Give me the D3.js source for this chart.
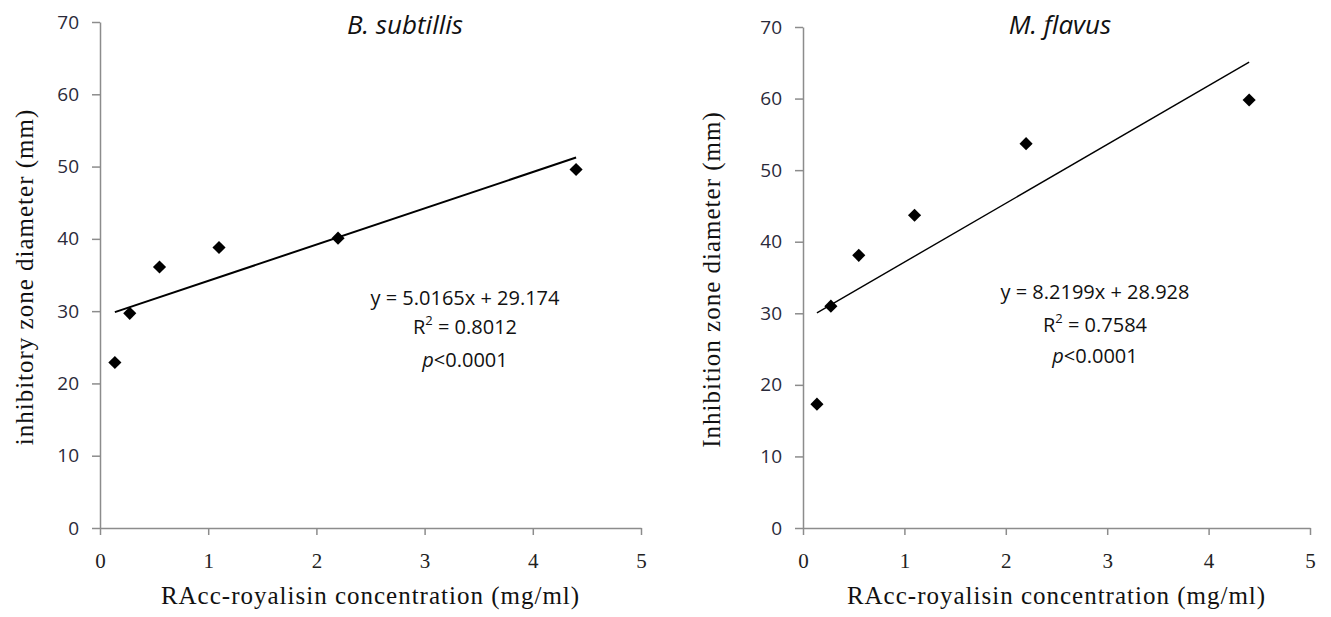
<!DOCTYPE html>
<html>
<head>
<meta charset="utf-8">
<script src="https://cdn.jsdelivr.net/npm/d3@7"></script>
<style>
  body { margin: 0; background: #fff; }
  svg { display: block; }
</style>
</head>
<body>
<div id="chart"></div>
<script>
// concentrations (mg/ml), shared by both panels
var concentration = [0.1375, 0.275, 0.55, 1.1, 2.2, 4.4];

// B. subtillis inhibitory zone diameters (mm)
var bSubtillis = [22.9, 29.7, 36.1, 38.8, 40.1, 49.6];
// M. flavus inhibition zone diameters (mm)
var mFlavus = [17.3, 31.0, 38.1, 43.7, 53.7, 59.8];

var xTicks = [0, 1, 2, 3, 4, 5];
var yTicks = [0, 10, 20, 30, 40, 50, 60, 70];

var panels = [
    {title: "B. subtillis", ytitle: "inhibitory zone diameter (mm)", values: bSubtillis,
     slope: 5.0165, intercept: 29.174, eq: "y = 5.0165x + 29.174", r2: "0.8012",
     left: 100, right: 641, top: 22, bottom: 528, titleX: 405, ytitleX: 24,
     eqX: 465, eqY: [305, 334, 367], lineW: 2},
    {title: "M. flavus", ytitle: "Inhibition zone diameter (mm)", values: mFlavus,
     slope: 8.2199, intercept: 28.928, eq: "y = 8.2199x + 28.928", r2: "0.7584",
     left: 803, right: 1310, top: 27, bottom: 528, titleX: 1060, ytitleX: 711,
     eqX: 1095, eqY: [299, 332, 363], lineW: 1.4}
];

var sans = "'Open Sans', 'Liberation Sans', sans-serif";
var serif = "'Liberation Serif', 'Times New Roman', serif";

var svg = d3.select("#chart").append("svg")
    .attr("width", 1331)
    .attr("height", 617);

panels.forEach(function(p) {
    var x = d3.scaleLinear().domain([0, 5]).range([p.left, p.right]);
    var y = d3.scaleLinear().domain([0, 70]).range([p.bottom, p.top]);

    //x axis
    var gx = svg.append("g")
        .attr("transform", `translate(0, ${p.bottom})`)
        .call(d3.axisBottom(x).tickValues(xTicks).tickSize(7).tickSizeOuter(0).tickFormat(d3.format("d")));
    gx.selectAll("path, line").attr("stroke", "#8c8c8c").attr("stroke-width", 1.5);
    gx.selectAll("text")
        .attr("font-family", serif)
        .attr("font-size", 21).attr("fill", "#222")
        .attr("y", 33).attr("dy", "0.35em");

    //y axis
    var gy = svg.append("g")
        .attr("transform", `translate(${p.left}, 0)`)
        .call(d3.axisLeft(y).tickValues(yTicks).tickSize(8).tickSizeOuter(0));
    gy.selectAll("path, line").attr("stroke", "#8c8c8c").attr("stroke-width", 1.5);
    gy.selectAll("text")
        .attr("font-family", sans)
        .attr("font-size", 19).attr("fill", "#2a2a3a").attr("x", -21);

    //title
    svg.append("text")
        .attr("x", p.titleX).attr("y", 34)
        .attr("text-anchor", "middle")
        .attr("font-family", sans)
        .attr("font-style", "italic").attr("font-size", 26).attr("fill", "#111")
        .text(p.title);

    //axis titles
    svg.append("text")
        .attr("x", (p.left + p.right) / 2).attr("y", 604)
        .attr("text-anchor", "middle")
        .attr("font-family", serif)
        .attr("font-size", 25).attr("letter-spacing", 1).attr("fill", "#111")
        .text("RAcc-royalisin concentration (mg/ml)");

    svg.append("text")
        .attr("transform", `translate(${p.ytitleX}, ${(p.top + p.bottom) / 2 + 2}) rotate(-90)`)
        .attr("text-anchor", "middle")
        .attr("dy", "0.35em")
        .attr("font-family", serif)
        .attr("font-size", 25).attr("letter-spacing", 1).attr("fill", "#111")
        .text(p.ytitle);

    //trend line
    var xMin = d3.min(concentration), xMax = d3.max(concentration);
    svg.append("line")
        .attr("x1", x(xMin)).attr("y1", y(p.slope * xMin + p.intercept))
        .attr("x2", x(xMax)).attr("y2", y(p.slope * xMax + p.intercept))
        .attr("stroke", "#000").attr("stroke-width", p.lineW);

    //points
    svg.selectAll(null)
        .data(concentration.map(function(c, i) { return {x: c, y: p.values[i]}; }))
        .enter().append("path")
        .attr("d", d3.symbol().type(d3.symbolDiamond2).size(110))
        .attr("transform", d => `translate(${x(d.x)}, ${y(d.y)})`)
        .attr("fill", "#000");

    //equation text
    svg.append("text")
        .attr("x", p.eqX).attr("y", p.eqY[0])
        .attr("text-anchor", "middle")
        .attr("font-family", sans).attr("font-size", 20).attr("fill", "#111")
        .text(p.eq);
    var r2 = svg.append("text")
        .attr("x", p.eqX).attr("y", p.eqY[1])
        .attr("text-anchor", "middle")
        .attr("font-family", sans).attr("font-size", 20).attr("fill", "#111");
    r2.append("tspan").text("R");
    r2.append("tspan").attr("baseline-shift", "super").attr("font-size", 13).text("2");
    r2.append("tspan").text(" = " + p.r2);
    var pv = svg.append("text")
        .attr("x", p.eqX).attr("y", p.eqY[2])
        .attr("text-anchor", "middle")
        .attr("font-family", sans).attr("font-size", 20).attr("fill", "#111");
    pv.append("tspan").attr("font-style", "italic").text("p");
    pv.append("tspan").text("<0.0001");
});
</script>
</body>
</html>
